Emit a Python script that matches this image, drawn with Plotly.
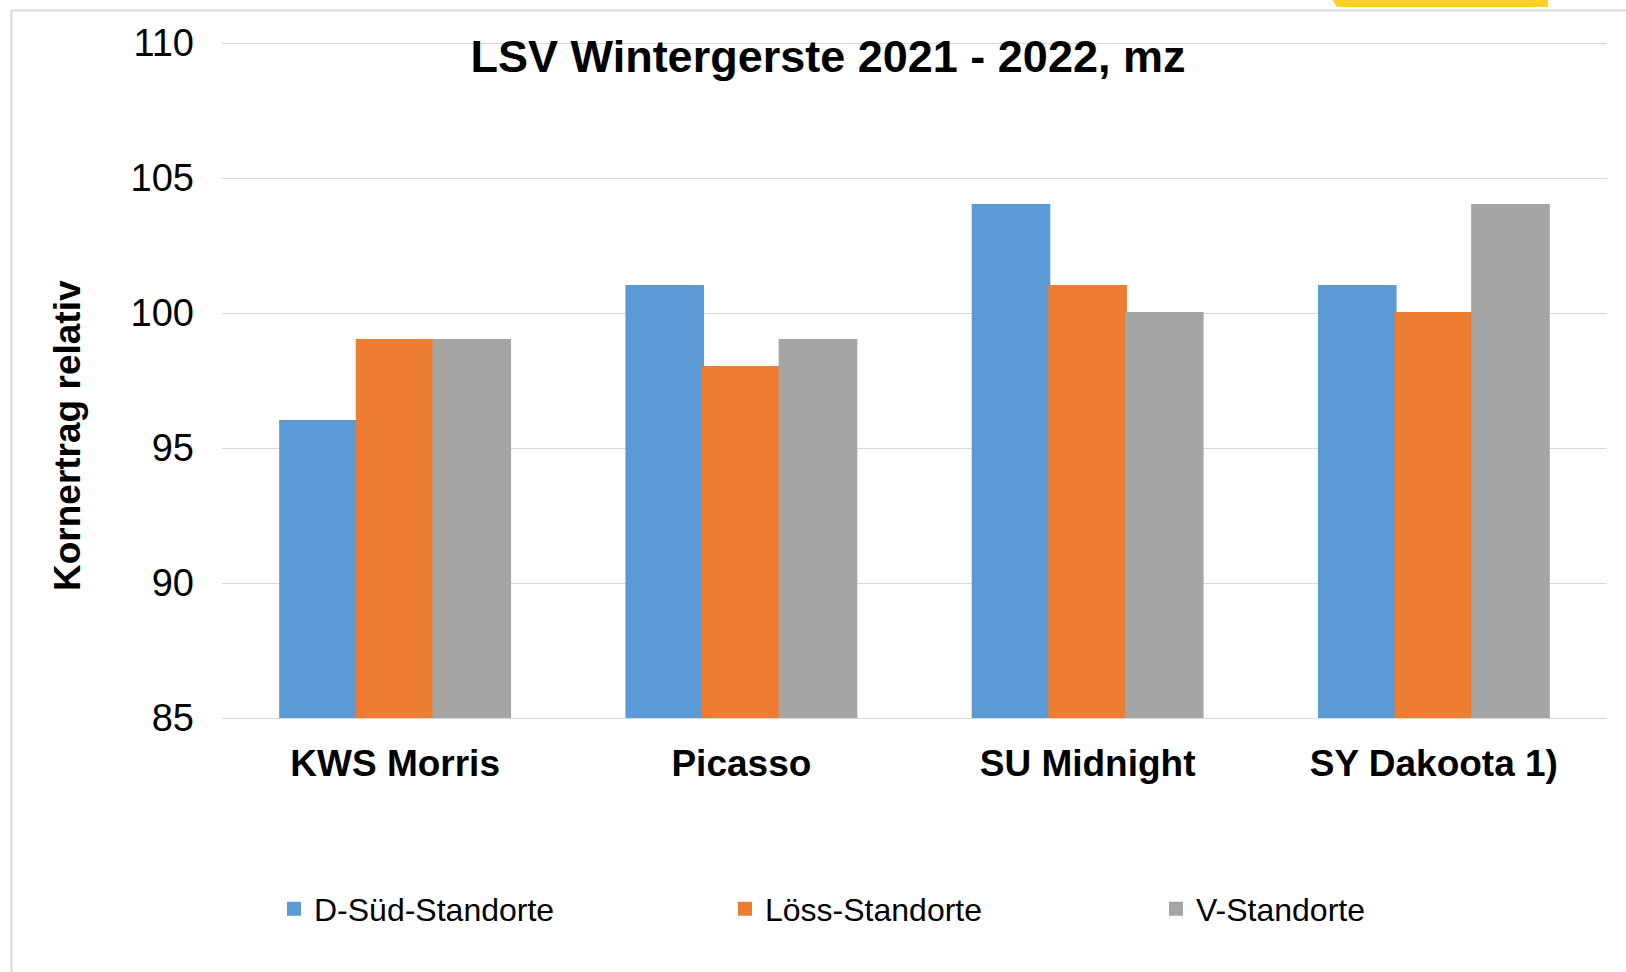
import plotly.graph_objects as go

categories = ["KWS Morris", "Picasso", "SU Midnight", "SY Dakoota 1)"]
series_names = ["D-Süd-Standorte", "Löss-Standorte", "V-Standorte"]
d_sued = [96, 101, 104, 101]
loess = [99, 98, 101, 100]
v_standorte = [99, 99, 100, 104]
y_ticks = [85, 90, 95, 100, 105, 110]

colors = ["#5B9BD5", "#ED7D31", "#A5A5A5"]
FONT = "Liberation Sans, Arial, sans-serif"

W, H = 1626, 972
ML, MR, MT, MB = 222, 19, 42, 254
PW = W - ML - MR
PH = H - MT - MB


def px_x(sx):
    """screen x pixel -> paper x"""
    return (sx - ML) / PW


def px_y(sy):
    """screen y pixel -> paper y"""
    return (H - MB - sy) / PH


fig = go.Figure()
legend_ids = ["legend", "legend2", "legend3"]
for name, vals, col, lg in zip(series_names, [d_sued, loess, v_standorte], colors, legend_ids):
    fig.add_trace(go.Bar(
        x=categories, y=vals, name=name, legend=lg,
        marker=dict(color=col, line=dict(color=col, width=2)),
        hoverinfo="x+y+name",
    ))

legend_left_px = [274, 725, 1156]
legend_cfg = {}
for lg, lx in zip(legend_ids, legend_left_px):
    legend_cfg[lg] = dict(
        x=px_x(lx), xanchor="left", y=px_y(909), yanchor="middle",
        orientation="h", font=dict(family=FONT, size=32, color="#000000"),
        bgcolor="rgba(0,0,0,0)", borderwidth=0,
    )

fig.update_layout(
    width=W, height=H,
    margin=dict(l=ML, r=MR, t=MT, b=MB, pad=0),
    paper_bgcolor="#FFFFFF", plot_bgcolor="#FFFFFF",
    barmode="group", bargap=0.336, bargroupgap=0,
    title=dict(
        text="LSV Wintergerste 2021 - 2022, mz",
        x=828 / W, xanchor="center", xref="container",
        y=1 - 56 / H, yanchor="middle", yref="container",
        font=dict(family=FONT, size=45, color="#000000", weight="bold"),
    ),
    yaxis=dict(
        range=[85, 110.04], tickvals=y_ticks, ticks="",
        showgrid=True, gridcolor="#D9D9D9", gridwidth=1,
        zeroline=False, showline=False,
        tickfont=dict(family=FONT, size=38, color="#000000"),
        ticklabelstandoff=27,
    ),
    xaxis=dict(
        showline=True, linecolor="#D9D9D9", linewidth=1,
        ticks="", showgrid=False,
        tickfont=dict(family=FONT, size=37, color="#000000", weight="bold"),
        ticklabelstandoff=13,
    ),
    showlegend=True,
    **legend_cfg,
)

# y-axis title as annotation (not centred on the axis in the original)
fig.add_annotation(
    text="Kornertrag relativ", textangle=-90,
    xref="paper", yref="paper", x=px_x(67), y=px_y(436),
    xanchor="center", yanchor="middle", showarrow=False,
    font=dict(family=FONT, size=37, color="#000000", weight="bold"),
)

# chart frame (left and top border)
fig.add_shape(type="line", xref="paper", yref="paper",
              x0=px_x(11.5), x1=px_x(11.5), y0=px_y(10.5), y1=px_y(1000),
              line=dict(color="#D9D9D9", width=2))
fig.add_shape(type="line", xref="paper", yref="paper",
              x0=px_x(10.5), x1=px_x(1650), y0=px_y(10.5), y1=px_y(10.5),
              line=dict(color="#D9D9D9", width=2))

# yellow tab at top right
path = "M {:.5f},{:.5f} L {:.5f},{:.5f} L {:.5f},{:.5f} L {:.5f},{:.5f} Z".format(
    px_x(1329), px_y(-5), px_x(1548), px_y(-5),
    px_x(1548), px_y(7), px_x(1337), px_y(7))
fig.add_shape(type="path", xref="paper", yref="paper", path=path,
              fillcolor="#FDD122", line=dict(width=0))

fig.write_html(
    "out.html",
    config={"displayModeBar": False},
    post_script="document.body.style.margin='0px';document.body.style.overflow='hidden';",
)
